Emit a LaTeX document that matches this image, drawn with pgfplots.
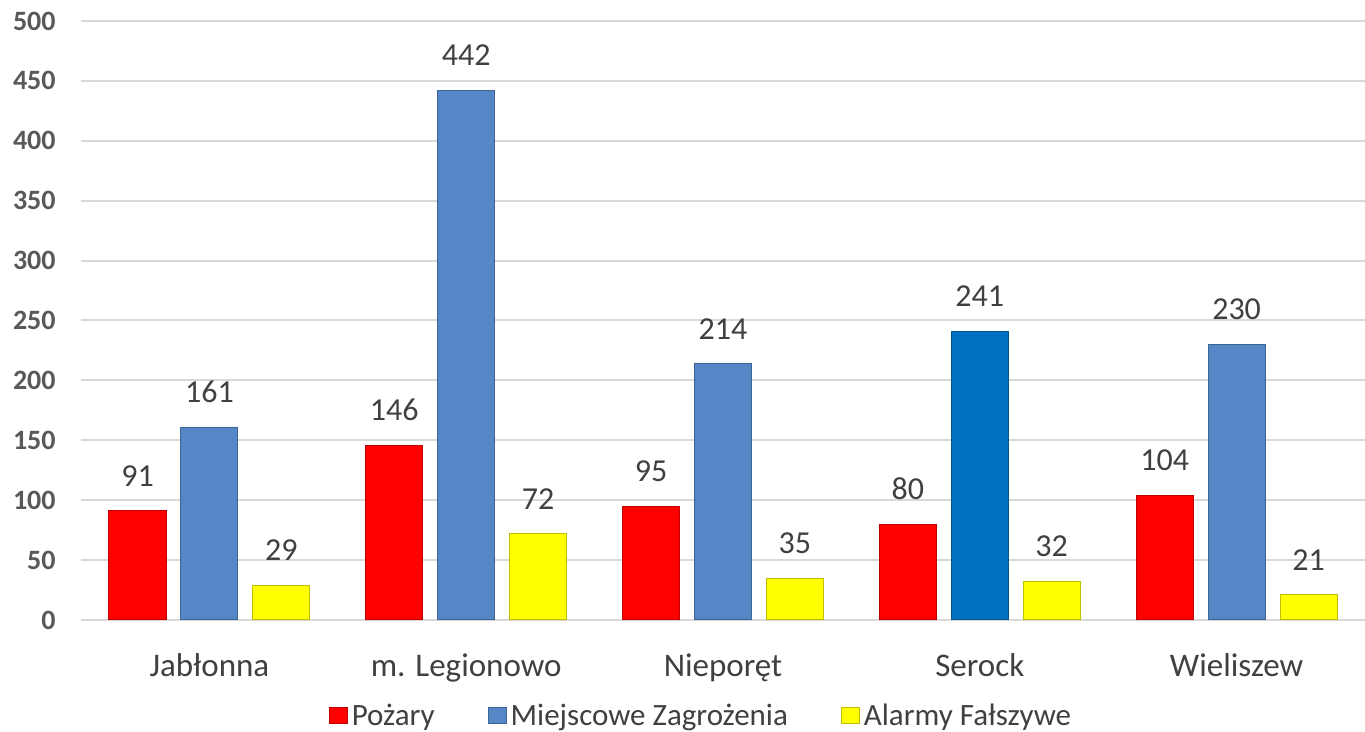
\documentclass[border=0pt]{standalone}
\usepackage{fontspec}
\setmainfont{Carlito}
\usepackage{pgfplots}
\pgfplotsset{compat=1.18}
\usetikzlibrary{calc}
\definecolor{cred}{HTML}{FF0000}
\definecolor{credge}{HTML}{C00000}
\definecolor{cblue}{HTML}{5587C6}
\definecolor{cblueedge}{HTML}{3A6595}
\definecolor{cdblue}{HTML}{0070C0}
\definecolor{cdblueedge}{HTML}{00558F}
\definecolor{cyel}{HTML}{FFFF00}
\definecolor{cyeledge}{HTML}{BFBF00}
\definecolor{gridgray}{HTML}{D9D9D9}
\definecolor{tickgray}{HTML}{595959}
\definecolor{labgray}{HTML}{404040}
\begin{document}
\begin{tikzpicture}
\begin{axis}[
  width=642pt, height=299.5pt, scale only axis,
  ybar,
  xmin=-0.5, xmax=4.5, ymin=0, ymax=500,
  ytick={0,50,...,500},
  xtick={0,1,2,3,4},
  xticklabels={Jabłonna, m. Legionowo, Nieporęt, Serock, Wieliszew},
  axis line style={draw=none},
  major tick length=0pt,
  ymajorgrids, xmajorgrids=false,
  grid style={color=gridgray, line width=1pt},
  /pgf/number format/assume math mode=true,
  yticklabel style={font=\fontsize{14}{16}\selectfont\bfseries, color=tickgray, anchor=east, inner sep=0pt, xshift=-12.5pt},
  xticklabel style={font=\fontsize{16.5}{19}\selectfont, color=labgray, anchor=base, inner sep=0pt, yshift=-28.5pt},
  bar width=0.222,
  every node near coord/.append style={font=\fontsize{16}{19}\selectfont, color=labgray, anchor=south, inner sep=0pt, yshift=12pt},
  legend style={at={(0.4836,-0.16)}, anchor=center, draw=none, fill=none, legend columns=-1,
    font=\fontsize{15.5}{18}\selectfont, text=labgray,
    /tikz/every even column/.append style={column sep=24.5pt}},
  legend image code/.code={\filldraw[#1] (-1pt,-4pt) rectangle (8pt,4pt);},
  clip=false,
]
\addplot[fill=cred, draw=credge, line width=0.5pt, bar shift=-0.28, nodes near coords] coordinates {(0,91) (1,146) (2,95) (3,80) (4,104)};
\addplot[fill=cblue, draw=cblueedge, line width=0.5pt, bar shift=0, nodes near coords] coordinates {(0,161) (1,442) (2,214) (3,241) (4,230)};
\addplot[fill=cyel, draw=cyeledge, line width=0.5pt, bar shift=0.28, nodes near coords] coordinates {(0,29) (1,72) (2,35) (3,32) (4,21)};
\addplot[fill=cdblue, draw=cdblueedge, line width=0.5pt, bar shift=0, forget plot] coordinates {(3,241)};
\legend{Pożary, Miejscowe Zagrożenia, Alarmy Fałszywe}
\coordinate (bl) at (rel axis cs:0,0);
\coordinate (tr) at (rel axis cs:1,1);
\end{axis}
\pgfresetboundingbox
\path ($(bl)+(-40.5pt,-56pt)$) rectangle ($(tr)+(0pt,10.5pt)$);
\end{tikzpicture}
\end{document}
